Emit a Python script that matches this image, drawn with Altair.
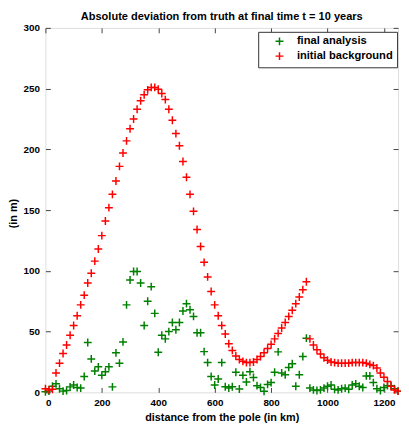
import altair as alt
import pandas as pd

# ---- data ----
step_km = 12.5
n_pts = 101
series_names = ["final analysis", "initial background"]
series_colors = ["#008000", "#ff0000"]

red = [3, 2, 2.5, 16, 24, 32, 39, 47, 55, 63,
       72, 80, 90, 98, 108, 118, 129, 141, 152, 163,
       174, 186, 197, 207, 217, 225, 233, 240, 245, 249,
       251, 251, 249.5, 246, 241, 233, 224, 213, 203, 190,
       177, 163, 149, 134, 120, 107, 95, 83, 72, 63,
       55, 48, 40, 34.5, 30, 27, 25.5, 24.5, 24.5, 25,
       27, 29.5, 32.5, 36, 39.5, 44, 48.5, 53, 57.5, 62.5,
       67.5, 73, 78.5, 84.5, 91, 44, 39, 35, 31.5, 28.5,
       26.5, 25, 24.5, 24, 24, 24, 24, 24.5, 24.5, 24.5,
       24.5, 24, 23, 22, 20, 16, 12.5, 9, 5, 2,
       1]

green = [0.5, 1, 5, 7, 3, 1, 1.5, 4.5, 6, 4,
         3.5, 13, 41, 27.5, 17.5, 21, 14, 17, 21, 4.5,
         32.5, 24, 41.5, 72, 92.5, 99.5, 99.5, 90, 55, 75,
         87, 65, 33, 47, 44, 50, 57.5, 51.5, 57.5, 67,
         73, 68, 62.5, 49, 49, 33.5, 24.5, 13, 6, 11,
         24.5, 4.6, 3.5, 4.6, 16.5, 2.7, 14, 8.5, 17, 12.2,
         5.5, 4, 0.8, 6.5, 8, 16.5, 33.3, 16, 14.5, 20.5,
         23.5, 5, 14.5, 29.5, 44.6, 3.5, 2, 1.5, 2, 3.5,
         5, 6, 2.5, 2, 3, 3.5, 2.5, 6, 7, 5,
         4, 13.5, 13.5, 8, 3, 1.5, 4, 5.5, 5.5, 3,
         1]

x_ticks = [0, 200, 400, 600, 800, 1000, 1200]
y_ticks = [0, 50, 100, 150, 200, 250, 300]

km = [i * step_km for i in range(n_pts)]

df = pd.DataFrame({
    "km": km + km,
    "value": green + red,
    "series": [series_names[0]] * n_pts + [series_names[1]] * n_pts,
})

PLUS = "M-1,0L1,0M0,-1L0,1"
FONT = "Liberation Sans"

x_scale = alt.Scale(domain=[0, 1250], nice=False, zero=False)
y_scale = alt.Scale(domain=[0, 300], nice=False, zero=False)

base = alt.Chart(df)

points = base.mark_point(
    shape=PLUS, filled=False, size=64, strokeWidth=1.5, opacity=1
).encode(
    x=alt.X("km:Q", scale=x_scale,
            axis=alt.Axis(orient="bottom", values=x_ticks, format="d",
                          title="distance from the pole (in km)",
                          ticks=False, domain=False, grid=False, labelPadding=5,
                          labelFont=FONT, labelFontSize=10, labelFontWeight="bold", labelColor="#000",
                          titleFont=FONT, titleFontSize=11, titleFontWeight="bold", titleColor="#000",
                          titleX=179, titleY=26, titleBaseline="middle", titleAlign="center")),
    y=alt.Y("value:Q", scale=y_scale,
            axis=alt.Axis(orient="left", values=y_ticks, format="d", title="(in m)",
                          ticks=False, domain=False, grid=False, labelPadding=6,
                          labelFont=FONT, labelFontSize=10, labelFontWeight="bold", labelColor="#000",
                          titleFont=FONT, titleFontSize=11, titleFontWeight="bold", titleColor="#000",
                          titleAngle=270, titleX=-32, titleY=188, titleBaseline="middle",
                          titleAlign="center")),
    color=alt.Color("series:N",
                    scale=alt.Scale(domain=series_names, range=series_colors),
                    legend=alt.Legend(title=None, orient="none", legendX=216, legendY=4,
                                      strokeColor="#333", fillColor="#ffffff", padding=4,
                                      symbolType=PLUS, symbolSize=64, symbolStrokeWidth=1.5,
                                      symbolOffset=12, labelOffset=12, rowPadding=0,
                                      labelFont=FONT, labelFontSize=11.3, labelFontWeight="bold",
                                      labelColor="#000")),
)

tick_style = dict(labels=False, domain=False, grid=False, ticks=True, tickSize=5,
                  tickColor="#444", tickWidth=1, offset=-5, title=None)

ticks_a = base.mark_point(opacity=0).encode(
    x=alt.X("km:Q", scale=x_scale, axis=alt.Axis(orient="top", values=x_ticks, **tick_style)),
    y=alt.Y("value:Q", scale=y_scale, axis=alt.Axis(orient="right", values=y_ticks, **tick_style)),
)
ticks_b = base.mark_point(opacity=0).encode(
    x=alt.X("km:Q", scale=x_scale, axis=alt.Axis(orient="bottom", values=x_ticks, **tick_style)),
    y=alt.Y("value:Q", scale=y_scale, axis=alt.Axis(orient="left", values=y_ticks, **tick_style)),
)

chart = alt.layer(points, ticks_a, ticks_b).resolve_axis(
    x="independent", y="independent"
).properties(
    width=358,
    height=370,
    title=alt.TitleParams("Absolute deviation from truth at final time t = 10 years",
                          font=FONT, fontSize=11.2, fontWeight="bold", color="#000",
                          anchor="middle", frame="group", baseline="bottom", offset=5, dy=15),
    autosize=alt.AutoSizeParams(type="none"),
    padding={"left": 38, "top": 17, "right": 3, "bottom": 32},
).configure_view(
    stroke="#333", strokeWidth=1
).configure(background="#ffffff")

chart.save("out.html", embed_options={"renderer": "svg", "actions": False})
